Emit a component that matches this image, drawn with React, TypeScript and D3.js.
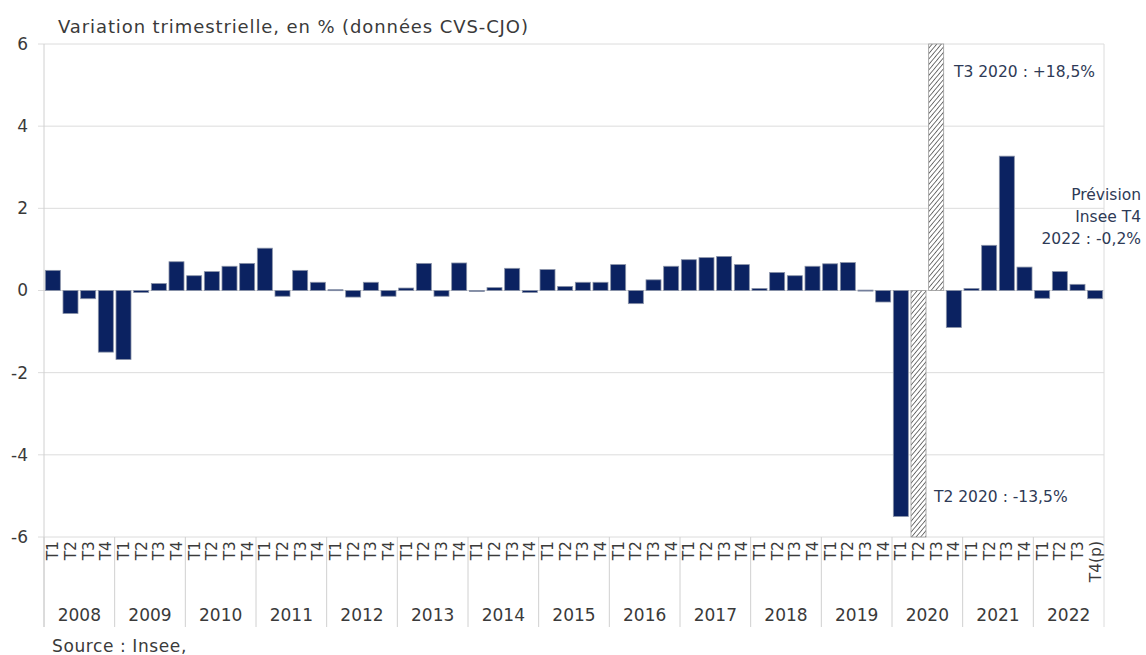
import React from "react";
import * as d3 from "d3";

const W = 1146;
const H = 655;

const years = ["2008", "2009", "2010", "2011", "2012", "2013", "2014", "2015", "2016", "2017", "2018", "2019", "2020", "2021", "2022"];
const quarterLabels = ["T1", "T2", "T3", "T4"];
// variation trimestrielle du PIB, en %
const values = [
  0.49, -0.56, -0.2, -1.5,
  -1.68, -0.05, 0.17, 0.7,
  0.36, 0.46, 0.59, 0.66,
  1.03, -0.14, 0.49, 0.2,
  0.02, -0.16, 0.2, -0.14,
  0.06, 0.66, -0.14, 0.67,
  0.0, 0.07, 0.54, -0.05,
  0.51, 0.1, 0.2, 0.2,
  0.63, -0.32, 0.26, 0.59,
  0.75, 0.8, 0.83, 0.63,
  0.05, 0.44, 0.36, 0.59,
  0.65, 0.68, 0.01, -0.28,
  -5.5, -13.5, 18.5, -0.9,
  0.05, 1.1, 3.27, 0.57,
  -0.19, 0.46, 0.15, -0.2,
];
// trimestres hors échelle (hachurés)
const hatched = ["2020-T2", "2020-T3"];
const yTicks = [-6, -4, -2, 0, 2, 4, 6];

const data = values.map((v, i) => {
  const year = years[Math.floor(i / 4)];
  const q = quarterLabels[i % 4];
  return {
    key: `${year}-${q}`,
    year,
    label: i === values.length - 1 ? "T4(p)" : q,
    value: v,
  };
});

const left = 44;
const right = 1104;
const top = 44;
const bottom = 537;

const x = d3.scaleBand<string>()
  .domain(data.map(d => d.key))
  .range([left, right])
  .paddingInner(0.15)
  .paddingOuter(0.075);
const y = d3.scaleLinear().domain([-6, 6]).range([bottom, top]);
const xYear = d3.scaleBand<string>().domain(years).range([left, right]);

const navy = "#0b2261";
const txt = "#3a3a3a";
const note = "#2e3a56";
const font = "'DejaVu Sans', sans-serif";

export default function App() {
  const clampY = (v: number) => y(Math.max(-6, Math.min(6, v)));
  return (
    <svg width={W} height={H} style={{ position: "absolute", left: 0, top: 0, background: "#fff" }} fontFamily={font}>
      <defs>
        <pattern id="hatch" patternUnits="userSpaceOnUse" width="3.5" height="3.5" patternTransform="rotate(40)">
          <rect width="3.5" height="3.5" fill="#fff" />
          <line x1="0" y1="0" x2="0" y2="3.5" stroke="#4a4a4a" strokeWidth="1.5" />
        </pattern>
      </defs>

      <text x={58} y={33} fontSize={18} letterSpacing={0.9} fill={txt}>Variation trimestrielle, en % (données CVS-CJO)</text>

      {yTicks.map(t => (
        <g key={t}>
          <line x1={38} x2={right} y1={y(t)} y2={y(t)} stroke="#dcdcdc" />
          <text x={28} y={y(t)} dy="0.35em" textAnchor="end" fontSize={17} fill={txt}>{t}</text>
        </g>
      ))}

      <line x1={left} x2={left} y1={top} y2={627} stroke="#d0d0d0" />
      <line x1={right} x2={right} y1={top} y2={627} stroke="#dcdcdc" />
      {years.map(yr => (
        <line key={yr} x1={xYear(yr)!} x2={xYear(yr)!} y1={bottom} y2={627} stroke="#d0d0d0" />
      ))}

      {data.map(d => {
        const isH = hatched.includes(d.key);
        const y0 = y(0);
        const yv = clampY(d.value);
        return (
          <rect
            key={d.key}
            x={x(d.key)!}
            width={x.bandwidth()}
            y={Math.min(y0, yv)}
            height={Math.max(1, Math.abs(yv - y0))}
            fill={isH ? "url(#hatch)" : navy}
            stroke={isH ? "#999" : "#8a93a8"}
            strokeWidth={0.8}
          />
        );
      })}

      {data.map(d => {
        const cx = x(d.key)! + x.bandwidth() / 2;
        return (
          <text key={d.key} transform={`translate(${cx},${541}) rotate(-90)`} textAnchor="end" dy="0.35em" fontSize={15.5} fill={txt}>
            {d.label}
          </text>
        );
      })}

      {years.map(yr => (
        <text key={yr} x={xYear(yr)! + xYear.bandwidth() / 2} y={621} textAnchor="middle" fontSize={17} fill={txt}>{yr}</text>
      ))}

      <text x={954} y={77} fontSize={15.5} fill={note}>T3 2020 : +18,5%</text>
      <text x={934} y={502} fontSize={15.5} fill={note}>T2 2020 : -13,5%</text>
      <text x={1141} textAnchor="end" fontSize={15.5} fill={note}>
        <tspan x={1141} y={200}>Prévision</tspan>
        <tspan x={1141} y={222}>Insee T4</tspan>
        <tspan x={1141} y={244}>2022 : -0,2%</tspan>
      </text>

      <text x={52} y={652} fontSize={17} letterSpacing={0.6} fill={txt}>Source : Insee,</text>
    </svg>
  );
}
